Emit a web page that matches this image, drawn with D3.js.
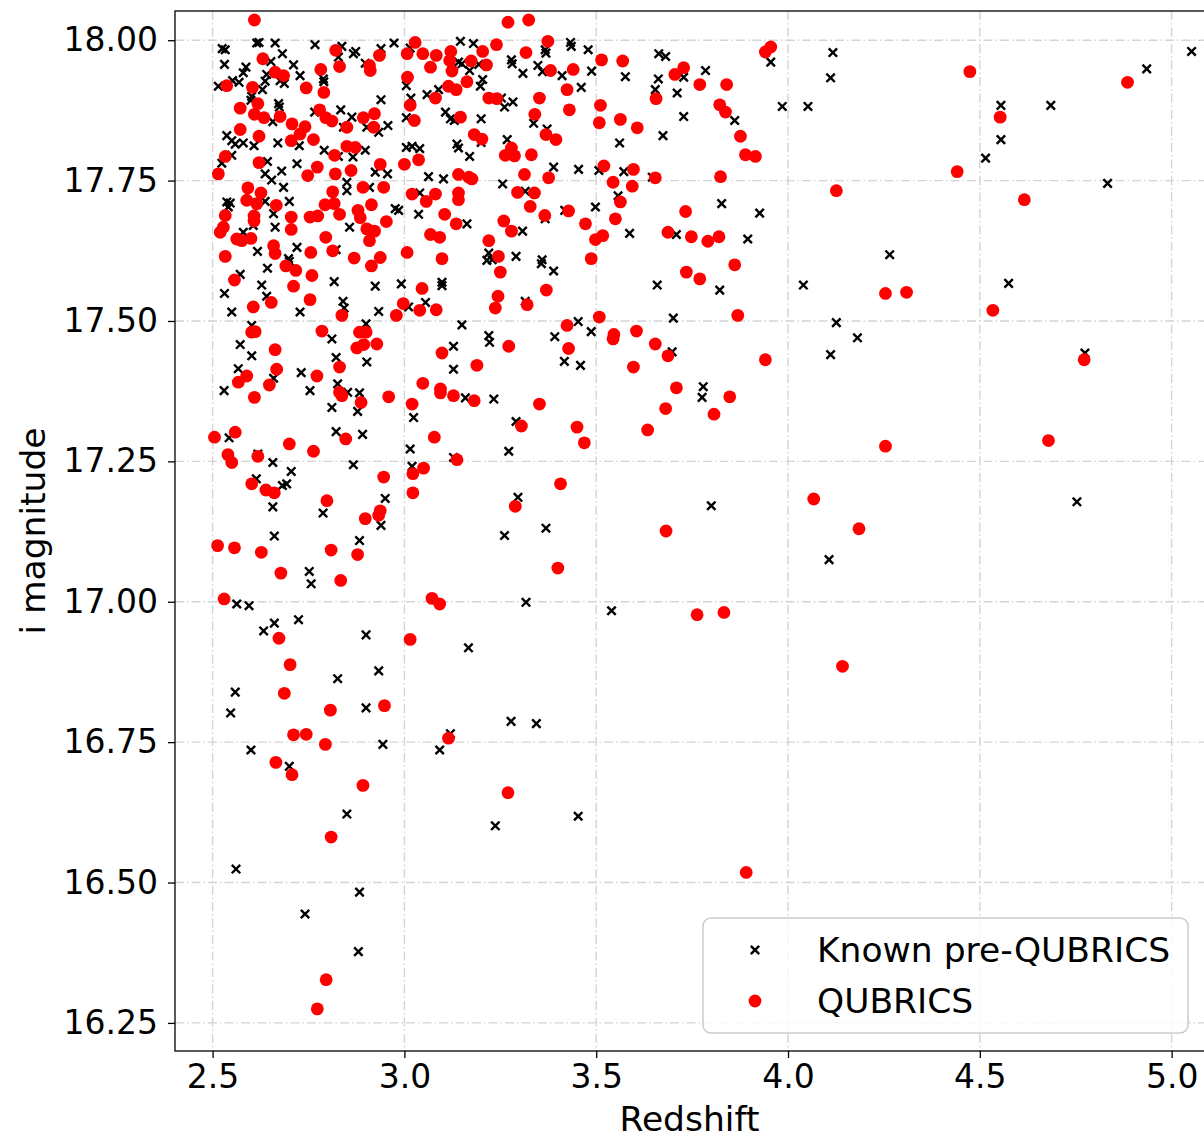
<!DOCTYPE html>
<html>
<head>
<meta charset="utf-8">
<script src="https://cdn.jsdelivr.net/npm/d3@7"></script>
<style>
  html, body { margin: 0; padding: 0; background: #fff; }
  svg { display: block; font-family: "DejaVu Sans", sans-serif; }
</style>
</head>
<body>
<svg id="chart"></svg>
<script>
// Known pre-QUBRICS quasars: [redshift, i magnitude]
const knownPts = [
  [2.525,17.985],[2.615,17.995],[2.621,17.996],[2.663,17.995],[2.767,17.992],[2.533,17.983],[2.682,17.976],[2.531,17.957],
  [2.652,17.962],[2.711,17.956],[2.587,17.952],[2.580,17.942],[2.552,17.928],[2.569,17.925],[2.515,17.918],[2.641,17.939],
  [2.637,17.927],[2.728,17.937],[2.676,17.928],[2.687,17.923],[2.789,17.931],[2.790,17.926],[2.630,17.912],[2.602,17.900],
  [2.600,17.893],[2.672,17.887],[2.674,17.881],[2.766,17.872],[2.657,17.855],[2.537,17.830],[2.550,17.821],[2.559,17.815],
  [2.580,17.817],[2.608,17.812],[2.670,17.817],[2.726,17.812],[2.791,17.804],[2.550,17.795],[2.524,17.781],[2.643,17.784],
  [2.720,17.780],[2.680,17.767],[2.637,17.762],[2.654,17.751],[2.685,17.738],[2.537,17.712],[2.546,17.710],[2.637,17.713],
  [2.700,17.713],[2.541,17.703],[2.659,17.691],[2.663,17.667],[2.606,17.670],[2.580,17.658],[2.720,17.631],[2.617,17.624],
  [2.698,17.611],
  [2.837,17.989],[2.828,17.970],[2.867,17.976],[2.873,17.980],[2.939,17.985],[2.973,17.995],[2.898,17.959],[3.015,17.986],
  [3.146,17.998],[3.180,17.994],[3.141,17.961],[3.150,17.958],[3.170,17.946],[3.194,17.957],[3.204,17.930],[3.198,17.918],
  [3.005,17.919],[3.059,17.903],[3.089,17.912],[3.017,17.897],[2.939,17.894],[2.834,17.876],[2.863,17.863],[3.005,17.862],
  [3.107,17.872],[3.120,17.860],[3.130,17.857],[3.200,17.860],[2.957,17.848],[2.902,17.845],[2.933,17.836],[2.841,17.845],
  [3.005,17.809],[3.020,17.811],[3.040,17.807],[3.137,17.815],[3.141,17.808],[3.170,17.793],[3.200,17.818],[2.898,17.804],
  [2.866,17.792],[2.828,17.793],[2.924,17.765],[2.956,17.762],[3.063,17.757],[3.102,17.753],[2.850,17.747],[2.850,17.732],
  [2.909,17.738],[3.040,17.728],[2.976,17.700],[2.985,17.697],[3.037,17.690],[3.163,17.673],[2.857,17.667],[2.822,17.627],
  [3.220,17.621],
  [3.433,17.996],[3.435,17.989],[3.479,17.983],[3.367,17.983],[3.369,17.977],[3.279,17.965],[3.281,17.958],[3.309,17.941],
  [3.348,17.955],[3.360,17.944],[3.411,17.937],[3.488,17.945],[3.461,17.916],[3.576,17.935],[3.663,17.976],[3.681,17.971],
  [3.662,17.931],[3.654,17.912],[3.728,17.934],[3.785,17.946],[3.711,17.906],[3.955,17.961],[3.985,17.882],[3.253,17.897],
  [3.261,17.881],[3.283,17.890],[3.728,17.864],[3.861,17.857],[3.337,17.852],[3.372,17.842],[3.268,17.823],[3.561,17.817],
  [3.674,17.830],[3.389,17.774],[3.454,17.770],[3.507,17.768],[3.572,17.766],[3.646,17.756],[3.256,17.744],[3.315,17.731],
  [3.557,17.723],[3.827,17.709],[3.926,17.692],[3.498,17.703],[3.418,17.697],[3.367,17.682],[3.308,17.660],[3.587,17.656],
  [3.709,17.654],[3.895,17.646],[3.291,17.615],[3.359,17.609],
  [2.572,17.583],[2.643,17.594],[2.700,17.606],[2.531,17.549],[2.628,17.564],[2.641,17.544],[2.550,17.516],[2.728,17.516],
  [2.817,17.570],[2.602,17.492],[2.572,17.458],[2.602,17.438],[2.567,17.415],[2.659,17.398],[2.731,17.408],[2.530,17.376],
  [2.754,17.376],[2.811,17.468],[2.811,17.346],[2.822,17.303],[2.822,17.435],[2.826,17.388],[2.543,17.292],[2.618,17.263],
  [2.657,17.248],[2.705,17.232],[2.614,17.219],[2.682,17.207],[2.693,17.210],[2.657,17.169],[2.788,17.158],
  [2.924,17.562],[2.992,17.566],[3.098,17.569],[3.098,17.563],[2.840,17.535],[2.843,17.523],[2.933,17.517],[3.011,17.525],
  [3.055,17.533],[3.215,17.608],[2.900,17.495],[3.150,17.493],[2.902,17.427],[3.128,17.455],[3.128,17.414],[3.220,17.474],
  [3.222,17.462],[2.852,17.373],[2.883,17.372],[2.878,17.339],[3.159,17.363],[3.024,17.328],[2.891,17.298],[3.015,17.272],
  [3.128,17.257],[3.020,17.241],[2.867,17.244],[2.950,17.184],
  [3.229,17.609],[3.357,17.602],[3.389,17.589],[3.315,17.535],[3.659,17.564],[3.822,17.555],[4.040,17.564],[3.453,17.499],
  [3.487,17.481],[3.392,17.472],[3.701,17.505],[3.698,17.445],[3.417,17.428],[3.459,17.421],[3.233,17.361],[3.779,17.383],
  [3.776,17.364],[3.291,17.321],[3.272,17.268],[3.296,17.186],[3.800,17.171],
  [2.939,17.136],[2.661,17.117],[2.883,17.109],[2.752,17.054],[2.757,17.032],[2.563,16.996],[2.595,16.993],[2.661,16.962],
  [2.633,16.948],[2.724,16.968],[2.900,16.941],[3.167,16.918],[2.933,16.877],[2.826,16.863],[2.559,16.839],[2.547,16.802],
  [2.900,16.811],[2.944,16.746],[2.600,16.736],[2.700,16.707],[3.092,16.736],[3.120,16.765],
  [2.850,16.622],[2.561,16.524],[2.883,16.483],[2.741,16.444],[2.880,16.377],
  [3.261,17.118],[3.369,17.131],[3.317,16.999],[3.540,16.984],[4.107,17.075],[3.278,16.787],[3.344,16.783],[3.237,16.601],
  [3.453,16.618],
  [4.117,17.978],[4.111,17.933],[4.052,17.882],[4.555,17.884],[4.685,17.884],[4.555,17.823],[4.515,17.790],[4.935,17.949],
  [5.052,17.980],[4.833,17.745],[4.265,17.618],[4.575,17.567],[4.126,17.497],[4.181,17.470],[4.111,17.440],[4.774,17.443],
  [4.753,17.178]
];

// QUBRICS quasars: [redshift, i magnitude]
const qubricsPts = [
  [2.609,18.036],[2.631,17.967],[2.663,17.943],[2.685,17.937],[2.537,17.919],[2.604,17.916],[2.744,17.915],[2.782,17.948],
  [2.790,17.907],[2.821,17.982],[2.618,17.887],[2.572,17.879],[2.609,17.868],[2.634,17.862],[2.676,17.864],[2.779,17.876],
  [2.795,17.862],[2.811,17.856],[2.707,17.851],[2.741,17.846],[2.728,17.833],[2.705,17.821],[2.572,17.841],[2.621,17.829],
  [2.763,17.823],[2.818,17.795],[2.533,17.793],[2.621,17.782],[2.515,17.762],[2.748,17.759],[2.773,17.774],[2.820,17.762],
  [2.592,17.737],[2.626,17.728],[2.615,17.709],[2.589,17.715],[2.666,17.706],[2.533,17.688],[2.608,17.687],[2.608,17.678],
  [2.705,17.685],[2.754,17.685],[2.774,17.687],[2.793,17.707],[2.813,17.730],[2.528,17.667],[2.520,17.658],[2.563,17.646],
  [2.576,17.643],[2.600,17.647],[2.705,17.663],[2.795,17.649],[2.659,17.634],[2.663,17.620],[2.533,17.615],[2.756,17.622],
  [2.813,17.625],
  [2.831,17.953],[2.935,17.973],[2.909,17.955],[2.911,17.946],[3.028,17.996],[3.007,17.976],[3.048,17.976],[3.083,17.973],
  [3.121,17.980],[3.204,17.980],[3.118,17.964],[3.068,17.952],[3.124,17.945],[3.174,17.963],[3.214,17.956],[3.008,17.934],
  [3.163,17.926],[3.115,17.918],[3.135,17.912],[3.081,17.897],[3.015,17.884],[3.220,17.897],[2.893,17.862],[2.922,17.869],
  [2.920,17.845],[2.850,17.845],[3.026,17.857],[3.146,17.863],[3.182,17.832],[3.202,17.824],[2.850,17.811],[2.872,17.809],
  [2.937,17.779],[3.000,17.779],[3.037,17.787],[2.861,17.768],[3.141,17.761],[3.168,17.756],[3.176,17.753],[2.892,17.738],
  [2.946,17.738],[3.020,17.726],[3.057,17.713],[3.081,17.726],[3.141,17.728],[3.141,17.716],[2.831,17.690],[2.817,17.709],
  [2.879,17.697],[2.885,17.684],[2.914,17.707],[3.105,17.690],[3.135,17.673],[2.953,17.677],[2.902,17.664],[2.922,17.660],
  [2.909,17.643],[3.068,17.654],[3.092,17.649],[3.220,17.643],[3.007,17.622],[2.869,17.612],[2.937,17.613],[3.098,17.611],
  [3.270,18.032],[3.324,18.036],[3.240,17.992],[3.374,17.998],[3.317,17.978],[3.514,17.965],[3.569,17.963],[3.381,17.946],
  [3.440,17.948],[3.705,17.939],[3.728,17.951],[3.770,17.921],[3.840,17.921],[3.941,17.979],[3.955,17.988],[3.424,17.912],
  [3.241,17.896],[3.352,17.897],[3.430,17.876],[3.511,17.884],[3.340,17.868],[3.508,17.853],[3.563,17.859],[3.607,17.844],
  [3.656,17.896],[3.822,17.885],[3.837,17.872],[3.876,17.829],[3.889,17.796],[3.915,17.793],[3.369,17.832],[3.395,17.823],
  [3.263,17.795],[3.279,17.808],[3.287,17.794],[3.331,17.796],[3.313,17.761],[3.376,17.755],[3.520,17.776],[3.597,17.770],
  [3.654,17.755],[3.824,17.757],[3.544,17.747],[3.594,17.740],[3.295,17.729],[3.339,17.728],[3.563,17.712],[3.328,17.704],
  [3.428,17.696],[3.366,17.688],[3.733,17.695],[3.259,17.678],[3.279,17.660],[3.472,17.673],[3.550,17.682],[3.498,17.645],
  [3.517,17.652],[3.245,17.615],[3.687,17.658],[3.748,17.650],[3.791,17.642],[3.820,17.650],[3.487,17.611],[3.861,17.600],
  [2.691,17.598],[2.717,17.590],[2.759,17.581],[2.557,17.573],[2.711,17.562],[2.606,17.525],[2.653,17.533],[2.754,17.538],
  [2.602,17.480],[2.611,17.481],[2.785,17.482],[2.663,17.449],[2.667,17.414],[2.567,17.391],[2.589,17.402],[2.648,17.386],
  [2.772,17.402],[2.609,17.364],[2.505,17.293],[2.559,17.302],[2.700,17.281],[2.763,17.268],[2.540,17.262],[2.550,17.248],
  [2.618,17.259],[2.602,17.210],[2.639,17.199],[2.661,17.194],[2.798,17.180],
  [2.914,17.598],[3.046,17.558],[2.997,17.531],[2.979,17.510],[3.040,17.519],[3.083,17.520],[2.837,17.510],[2.883,17.480],
  [2.900,17.480],[2.876,17.452],[2.894,17.458],[2.928,17.459],[2.831,17.418],[3.098,17.443],[3.189,17.421],[2.831,17.373],
  [2.837,17.367],[2.887,17.355],[2.959,17.365],[3.048,17.389],[3.094,17.379],[3.094,17.372],[3.128,17.367],[3.182,17.358],
  [3.020,17.352],[2.847,17.290],[3.078,17.293],[3.137,17.253],[3.050,17.238],[3.022,17.228],[2.946,17.222],[3.022,17.194],
  [2.937,17.162],[2.933,17.154],[2.898,17.148],
  [3.250,17.587],[3.735,17.587],[3.770,17.575],[3.244,17.544],[3.237,17.523],[3.370,17.555],[3.320,17.529],[3.869,17.510],
  [3.508,17.507],[3.424,17.492],[3.546,17.476],[3.544,17.468],[3.605,17.482],[3.272,17.455],[3.428,17.451],[3.654,17.459],
  [3.687,17.438],[3.597,17.418],[3.941,17.431],[3.709,17.381],[3.848,17.365],[3.681,17.344],[3.807,17.334],[3.352,17.352],
  [3.634,17.306],[3.305,17.313],[3.450,17.311],[3.469,17.283],[3.407,17.210],[3.289,17.170],
  [2.513,17.100],[2.557,17.096],[2.627,17.088],[2.809,17.092],[2.878,17.084],[2.678,17.051],[2.834,17.038],[2.530,17.005],
  [3.072,17.006],[3.092,16.996],[2.673,16.935],[3.015,16.933],[2.702,16.888],[2.687,16.837],[2.807,16.807],[2.948,16.815],
  [2.711,16.763],[2.744,16.764],[2.794,16.746],[3.115,16.757],[2.665,16.714],[2.707,16.692],[2.892,16.673],
  [2.809,16.581],[2.796,16.327],[2.773,16.275],
  [3.400,17.060],[3.682,17.126],[4.185,17.130],[3.763,16.977],[3.833,16.981],[4.142,16.885],[3.270,16.660],[3.891,16.518],
  [4.474,17.944],[4.885,17.925],[4.553,17.863],[4.441,17.766],[4.126,17.732],[4.616,17.716],[4.254,17.549],[4.309,17.551],
  [4.534,17.519],[4.772,17.431],[4.254,17.277],[4.679,17.287],[4.067,17.183]
];

const xTicks = [2.5, 3.0, 3.5, 4.0, 4.5, 5.0];
const yTicks = [16.25, 16.5, 16.75, 17.0, 17.25, 17.5, 17.75, 18.0];
const seriesNames = ["Known pre-QUBRICS", "QUBRICS"];

const W = 1204;
const H = 1136;
const plot = { left: 175, top: 11, bottom: 1051, right: 1210 };
const tickFont = 33;
const labelFont = 34.5;

const svg = d3.select("#chart").attr("width", W).attr("height", H);

const x = d3.scaleLinear().domain([2.402, 5.1]).range([plot.left, plot.right]);
const y = d3.scaleLinear().domain([16.2, 18.052]).range([plot.bottom, plot.top]);

// Grid (dash-dot, light gray)
const grid = svg.append("g");
grid.selectAll("line.vg")
  .data(xTicks)
  .join("line")
  .attr("x1", d => x(d)).attr("x2", d => x(d))
  .attr("y1", plot.top).attr("y2", plot.bottom)
  .attr("stroke", "#d4d4d4")
  .attr("stroke-width", 1.4)
  .attr("stroke-dasharray", "9,3,1.5,3");
grid.selectAll("line.hg")
  .data(yTicks)
  .join("line")
  .attr("x1", plot.left).attr("x2", W + 10)
  .attr("y1", d => y(d)).attr("y2", d => y(d))
  .attr("stroke", "#d4d4d4")
  .attr("stroke-width", 1.4)
  .attr("stroke-dasharray", "9,3,1.5,3");

// Known (crosses) first, QUBRICS (red dots) on top
const crossPath = "M-4.2,-4.2L4.2,4.2M-4.2,4.2L4.2,-4.2";
svg.append("g")
  .selectAll("path")
  .data(knownPts)
  .join("path")
  .attr("transform", d => `translate(${x(d[0])},${y(d[1])})`)
  .attr("d", crossPath)
  .attr("stroke", "#000")
  .attr("stroke-width", 2.4)
  .attr("fill", "none");

svg.append("g")
  .selectAll("circle")
  .data(qubricsPts)
  .join("circle")
  .attr("cx", d => x(d[0]))
  .attr("cy", d => y(d[1]))
  .attr("r", 6.4)
  .attr("fill", "#ff0000");

// Frame
svg.append("rect")
  .attr("x", plot.left)
  .attr("y", plot.top)
  .attr("width", plot.right + 20 - plot.left)
  .attr("height", plot.bottom - plot.top)
  .attr("fill", "none")
  .attr("stroke", "#000")
  .attr("stroke-width", 1.3);

// Axes
const xAxis = svg.append("g")
  .attr("transform", `translate(0,${plot.bottom})`)
  .call(d3.axisBottom(x).tickValues(xTicks).tickFormat(d3.format(".1f")).tickSize(7).tickPadding(7));
const yAxis = svg.append("g")
  .attr("transform", `translate(${plot.left},0)`)
  .call(d3.axisLeft(y).tickValues(yTicks).tickFormat(d3.format(".2f")).tickSize(7).tickPadding(10));

[xAxis, yAxis].forEach(a => {
  a.select(".domain").remove();
  a.selectAll(".tick line").attr("stroke", "#000").attr("stroke-width", 1.3);
  a.selectAll(".tick text")
    .attr("fill", "#000")
    .style("font-family", "DejaVu Sans")
    .style("font-size", tickFont + "px");
});

// Axis labels
svg.append("text")
  .attr("x", (plot.left + W) / 2)
  .attr("y", 1131)
  .attr("text-anchor", "middle")
  .style("font-size", labelFont + "px")
  .text("Redshift");

svg.append("text")
  .attr("transform", `translate(45,${(plot.top + plot.bottom) / 2}) rotate(-90)`)
  .attr("text-anchor", "middle")
  .style("font-size", labelFont + "px")
  .text("i magnitude");

// Legend
const leg = svg.append("g");
leg.append("rect")
  .attr("x", 703).attr("y", 918)
  .attr("width", 485).attr("height", 115)
  .attr("rx", 8)
  .attr("fill", "#fff").attr("fill-opacity", 0.8)
  .attr("stroke", "#cccccc").attr("stroke-width", 1.5);

leg.append("path")
  .attr("transform", "translate(755,950)")
  .attr("d", crossPath)
  .attr("stroke", "#000")
  .attr("stroke-width", 2.4);
leg.append("circle")
  .attr("cx", 755).attr("cy", 1001).attr("r", 6.4)
  .attr("fill", "#ff0000");

leg.selectAll("text")
  .data(seriesNames)
  .join("text")
  .attr("x", 817)
  .attr("y", (d, i) => 962 + i * 51)
  .style("font-size", labelFont + "px")
  .text(d => d);
</script>
</body>
</html>
